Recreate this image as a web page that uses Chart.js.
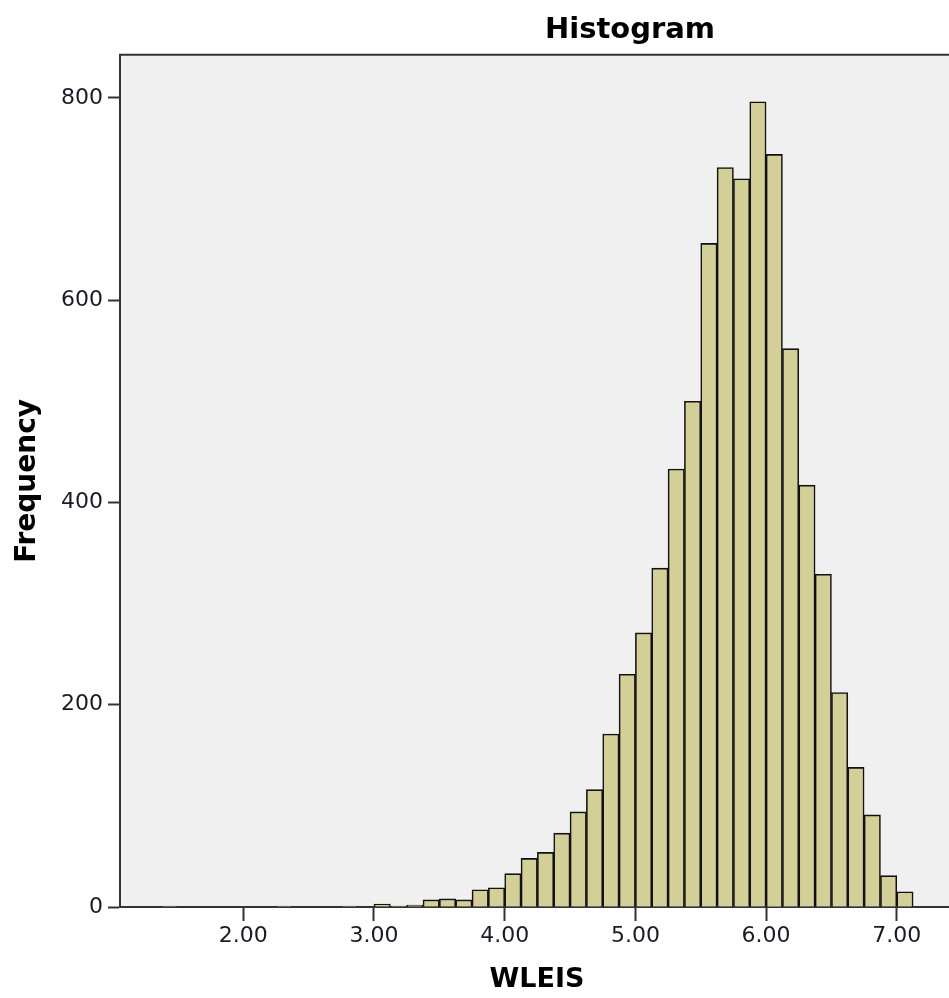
<!DOCTYPE html>
<html>
<head>
<meta charset="utf-8">
<script src="https://cdn.jsdelivr.net/npm/chart.js@4.4.1/dist/chart.umd.min.js"></script>
<style>
  html, body { margin: 0; padding: 0; background: #ffffff; overflow: hidden; width: 949px; height: 998px; }
  #wrap { position: absolute; left: 0; top: 0; width: 1260px; height: 998px; }
</style>
</head>
<body>
<div id="wrap"><canvas id="c" width="1260" height="998"></canvas></div>
<script>
// Histogram bins (lower edge of each bin, WLEIS score)
const binStarts = [
  1.375, 1.5, 1.625, 1.75, 1.875, 2.0, 2.125, 2.25, 2.375, 2.5, 2.625, 2.75, 2.875,
  3.0, 3.125, 3.25, 3.375, 3.5, 3.625, 3.75, 3.875,
  4.0, 4.125, 4.25, 4.375, 4.5, 4.625, 4.75, 4.875,
  5.0, 5.125, 5.25, 5.375, 5.5, 5.625, 5.75, 5.875,
  6.0, 6.125, 6.25, 6.375, 6.5, 6.625, 6.75, 6.875, 7.0
];
// Frequency of each bin
const frequencies = [
  1, 0, 0, 0, 0, 0, 0, 1, 0, 0, 0, 1, 0,
  3, 1, 2, 7, 8, 7, 17, 19,
  33, 48, 54, 73, 94, 116, 171, 230,
  271, 335, 433, 500, 656, 731, 720, 796,
  744, 552, 417, 329, 212, 138, 91, 31, 15
];
const binWidth = 0.125;
const xTickValues = [2, 3, 4, 5, 6, 7];
const yTickValues = [0, 200, 400, 600, 800];

const points = binStarts.map((b, i) => ({ x: b + binWidth / 2, y: frequencies[i] }));

const plotFrame = {
  id: 'plotFrame',
  beforeDraw(chart) {
    const { ctx, chartArea: a } = chart;
    ctx.save();
    ctx.fillStyle = '#f0f0f0';
    ctx.fillRect(a.left, a.top, a.right - a.left, a.bottom - a.top);
    ctx.restore();
  },
  afterDraw(chart) {
    const { ctx, chartArea: a } = chart;
    ctx.save();
    ctx.strokeStyle = '#333333';
    ctx.lineWidth = 2;
    ctx.beginPath();
    ctx.moveTo(a.left - 1, a.top);
    ctx.lineTo(a.right, a.top);
    ctx.stroke();
    ctx.restore();
  }
};

new Chart(document.getElementById('c'), {
  type: 'bar',
  data: {
    datasets: [{
      data: points,
      backgroundColor: '#d4cf98',
      borderColor: '#111111',
      borderWidth: 1.6,
      borderSkipped: 'start',
      barPercentage: 1,
      categoryPercentage: 1
    }]
  },
  options: {
    responsive: false,
    animation: false,
    devicePixelRatio: 1,
    layout: { padding: 0 },
    plugins: {
      legend: { display: false },
      tooltip: { enabled: false },
      title: {
        display: true,
        text: 'Histogram',
        color: '#000000',
        font: { family: 'DejaVu Sans', size: 29, weight: 'bold' },
        padding: { top: 13, bottom: 7 }
      }
    },
    scales: {
      x: {
        type: 'linear',
        min: 1.0566,
        max: 7.4377,
        offset: false,
        afterBuildTicks: (s) => { s.ticks = xTickValues.map(v => ({ value: v })); },
        afterFit: (s) => { s.height = 91; },
        ticks: {
          callback: (v) => Number(v).toFixed(2),
          font: { family: 'DejaVu Sans', size: 22 },
          color: '#1b1b26',
          padding: 2,
          maxRotation: 0,
          autoSkip: false
        },
        grid: { offset: false, drawOnChartArea: false, drawTicks: true, tickLength: 14, tickColor: '#333333', tickWidth: 2 },
        border: { display: true, color: '#333333', width: 2 },
        title: {
          display: true,
          text: 'WLEIS',
          color: '#000000',
          font: { family: 'DejaVu Sans', size: 27, weight: 'bold' },
          padding: { top: 0, bottom: 2 }
        }
      },
      y: {
        min: 0,
        max: 842.5,
        afterBuildTicks: (s) => { s.ticks = yTickValues.map(v => ({ value: v })); },
        afterFit: (s) => { s.width = 120; },
        ticks: {
          callback: (v) => String(v),
          font: { family: 'DejaVu Sans', size: 22 },
          color: '#1b1b26',
          padding: 5
        },
        grid: { drawOnChartArea: false, drawTicks: true, tickLength: 12, tickColor: '#333333', tickWidth: 2 },
        border: { display: true, color: '#333333', width: 2 },
        title: {
          display: true,
          text: 'Frequency',
          color: '#000000',
          font: { family: 'DejaVu Sans', size: 28, weight: 'bold' },
          padding: { top: 11, bottom: 0 }
        }
      },
      yRightSpace: {
        type: 'linear',
        position: 'right',
        display: true,
        min: 0,
        max: 842.5,
        afterFit: (s) => { s.width = 306; },
        ticks: { display: false },
        grid: { display: false, drawOnChartArea: false, drawTicks: false },
        border: { display: false },
        title: { display: false }
      }
    }
  },
  plugins: [plotFrame]
});
</script>
</body>
</html>
